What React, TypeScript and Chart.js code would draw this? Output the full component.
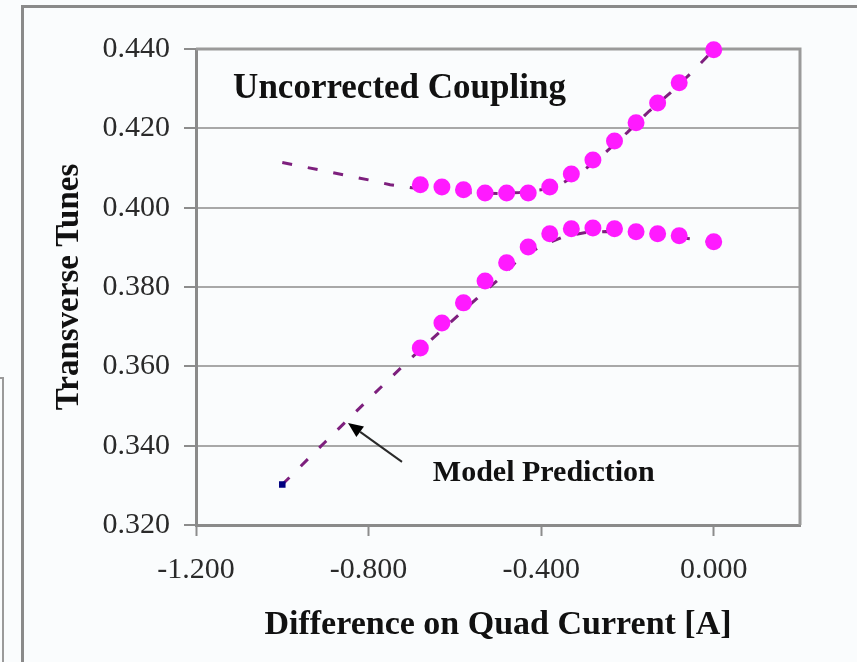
import React, { useEffect, useRef } from "react";
import { Chart, registerables } from "chart.js";

Chart.register(...registerables);

// Measured tunes vs. difference on quad current
const measuredCurrent = [-0.68, -0.63, -0.58, -0.53, -0.48, -0.43, -0.38, -0.33, -0.28, -0.23, -0.18, -0.13, -0.08, 0.0];
const measuredUpperTune = [0.4058, 0.4052, 0.4045, 0.4037, 0.4037, 0.4037, 0.4052, 0.4085, 0.412, 0.4168, 0.4214, 0.4264, 0.4315, 0.4398];
const measuredLowerTune = [0.3646, 0.3709, 0.376, 0.3815, 0.3861, 0.3901, 0.3934, 0.3947, 0.3949, 0.3947, 0.3939, 0.3934, 0.3929, 0.3914];

// Model prediction curves
const modelCurrent = [-1.0, -0.9, -0.8, -0.75, -0.7, -0.65, -0.6, -0.55, -0.5, -0.45, -0.4, -0.35, -0.3, -0.25, -0.2, -0.15, -0.1, -0.05, 0.0];
const modelUpperTune = [0.4114, 0.4092, 0.407, 0.4058, 0.405, 0.4045, 0.404, 0.4037, 0.4036, 0.4038, 0.4045, 0.4062, 0.4095, 0.414, 0.419, 0.4243, 0.429, 0.4342, 0.4398];
const modelLowerTune = [0.3302, 0.341, 0.3517, 0.357, 0.3622, 0.3672, 0.3721, 0.377, 0.3818, 0.3872, 0.3903, 0.3926, 0.3937, 0.394, 0.3938, 0.3934, 0.3928, 0.3921, 0.3913];

// Axis ticks
const xTickValues = [-1.2, -0.8, -0.4, 0.0];
const yTickValues = [0.32, 0.34, 0.36, 0.38, 0.4, 0.42, 0.44];

// Annotation texts
const titleText = "Uncorrected Coupling";
const modelLabel = "Model Prediction";
const xTitle = "Difference on Quad Current [A]";
const yTitle = "Transverse Tunes";

const SERIF = "'Liberation Serif', 'Times New Roman', serif";

const decorPlugin = {
  id: "decor",
  beforeDraw(chart: any) {
    const { ctx, width, height } = chart;
    ctx.save();
    ctx.fillStyle = "#fafcfd";
    ctx.fillRect(0, 0, width, height);
    // outer frame
    ctx.strokeStyle = "#8a8a8a";
    ctx.lineWidth = 3;
    ctx.beginPath();
    ctx.moveTo(22.5, height);
    ctx.lineTo(22.5, 6.5);
    ctx.lineTo(width, 6.5);
    ctx.stroke();
    // partial frame at the far left
    ctx.strokeStyle = "#9a9a9a";
    ctx.lineWidth = 2;
    ctx.beginPath();
    ctx.moveTo(0, 378);
    ctx.lineTo(3, 378);
    ctx.lineTo(3, height);
    ctx.stroke();
    ctx.restore();
  },
  beforeDatasetsDraw(chart: any) {
    const { ctx, chartArea } = chart;
    ctx.save();
    ctx.strokeStyle = "#9a9a9a";
    ctx.lineWidth = 3;
    ctx.beginPath();
    ctx.moveTo(chartArea.left, chartArea.top);
    ctx.lineTo(chartArea.right, chartArea.top);
    ctx.lineTo(chartArea.right, chartArea.bottom);
    ctx.stroke();
    ctx.restore();
  },
  afterDatasetsDraw(chart: any) {
    const { ctx } = chart;
    const xs = chart.scales.x;
    const ys = chart.scales.y;
    ctx.save();
    ctx.fillStyle = "#111";
    ctx.textAlign = "left";
    ctx.textBaseline = "alphabetic";
    ctx.font = `bold 35px ${SERIF}`;
    ctx.fillText(titleText, xs.getPixelForValue(-1.114), ys.getPixelForValue(0.4276));
    ctx.font = `bold 30px ${SERIF}`;
    ctx.fillText(modelLabel, xs.getPixelForValue(-0.651), ys.getPixelForValue(0.3311));

    // arrow
    const x0 = xs.getPixelForValue(-0.7225);
    const y0 = ys.getPixelForValue(0.3359);
    const x1 = xs.getPixelForValue(-0.8477);
    const y1 = ys.getPixelForValue(0.3457);
    const ang = Math.atan2(y1 - y0, x1 - x0);
    const headLen = 15;
    const headHalf = 6.5;
    const bx = x1 - headLen * Math.cos(ang);
    const by = y1 - headLen * Math.sin(ang);
    ctx.strokeStyle = "#2a2a2a";
    ctx.lineWidth = 2;
    ctx.beginPath();
    ctx.moveTo(x0, y0);
    ctx.lineTo(bx, by);
    ctx.stroke();
    ctx.fillStyle = "#000";
    ctx.beginPath();
    ctx.moveTo(x1, y1);
    ctx.lineTo(bx + headHalf * Math.sin(ang), by - headHalf * Math.cos(ang));
    ctx.lineTo(bx - headHalf * Math.sin(ang), by + headHalf * Math.cos(ang));
    ctx.closePath();
    ctx.fill();
    ctx.restore();
  },
};

export default function App() {
  const canvasRef = useRef<HTMLCanvasElement | null>(null);

  useEffect(() => {
    if (!canvasRef.current) return;
    const toPts = (xs: number[], ys: number[]) => xs.map((x, i) => ({ x, y: ys[i] }));
    const markerStyle = {
      showLine: false,
      pointRadius: 8.5,
      pointHoverRadius: 8.5,
      pointBackgroundColor: "#ff1aff",
      pointBorderColor: "#ff1aff",
      pointBorderWidth: 0,
      clip: false as any,
    };
    const modelStyle = {
      showLine: true,
      borderColor: "#7d1f7d",
      borderWidth: 3,
      borderDash: [10, 16],
      tension: 0,
      fill: false,
      clip: false as any,
    };
    const chart = new Chart(canvasRef.current, {
      type: "scatter",
      data: {
        datasets: [
          { label: "Measured upper", data: toPts(measuredCurrent, measuredUpperTune), ...markerStyle },
          { label: "Measured lower", data: toPts(measuredCurrent, measuredLowerTune), ...markerStyle },
          { label: "Model upper", data: toPts(modelCurrent, modelUpperTune), ...modelStyle, pointRadius: 0 },
          {
            label: "Model lower",
            data: toPts(modelCurrent, modelLowerTune),
            ...modelStyle,
            pointRadius: modelCurrent.map((_, i) => (i === 0 ? 2.5 : 0)),
            pointStyle: "rect",
            pointBackgroundColor: "#000080",
            pointBorderColor: "#000080",
          },
        ],
      },
      options: {
        animation: false,
        responsive: false,
        events: [],
        layout: { padding: { top: 49, right: 57, left: 0, bottom: 0 } },
        plugins: { legend: { display: false }, tooltip: { enabled: false } },
        scales: {
          x: {
            type: "linear",
            min: -1.2,
            max: 0.2,
            afterFit: (s: any) => {
              s.height = 137;
            },
            afterBuildTicks: (s: any) => {
              s.ticks = xTickValues.map((v) => ({ value: v }));
            },
            grid: {
              drawOnChartArea: false,
              drawTicks: true,
              tickLength: 11,
              tickColor: "#8c8c8c",
              tickWidth: 2,
            },
            border: { display: true, color: "#8a8a8a", width: 3 },
            ticks: {
              padding: 16,
              maxRotation: 0,
              autoSkip: false,
              color: "#2a2a2a",
              font: { family: SERIF, size: 30 },
              callback: (v: any) => Number(v).toFixed(3),
            },
            title: {
              display: true,
              text: xTitle,
              color: "#111",
              font: { family: SERIF, size: 34, weight: "bold" },
              padding: { top: 0, bottom: 16 },
            },
          },
          y: {
            type: "linear",
            min: 0.32,
            max: 0.44,
            afterFit: (s: any) => {
              s.width = 196;
            },
            afterBuildTicks: (s: any) => {
              s.ticks = yTickValues.map((v) => ({ value: v }));
            },
            grid: {
              drawOnChartArea: true,
              color: "#a8a8a8",
              lineWidth: 2,
              drawTicks: true,
              tickLength: 12,
              tickColor: "#8c8c8c",
              tickWidth: 2,
            },
            border: { display: true, color: "#8a8a8a", width: 3 },
            ticks: {
              padding: 14,
              autoSkip: false,
              color: "#2a2a2a",
              font: { family: SERIF, size: 30 },
              callback: (v: any) => Number(v).toFixed(3),
            },
            title: {
              display: true,
              text: yTitle,
              color: "#111",
              font: { family: SERIF, size: 33, weight: "bold" },
              padding: { top: 50, bottom: 0 },
            },
          },
        },
      },
      plugins: [decorPlugin],
    } as any);
    return () => chart.destroy();
  }, []);

  return (
    <div style={{ position: "fixed", left: 0, top: 0, width: 857, height: 662, background: "#fafcfd" }}>
      <canvas ref={canvasRef} width={857} height={662} style={{ display: "block", width: 857, height: 662 }} />
    </div>
  );
}
